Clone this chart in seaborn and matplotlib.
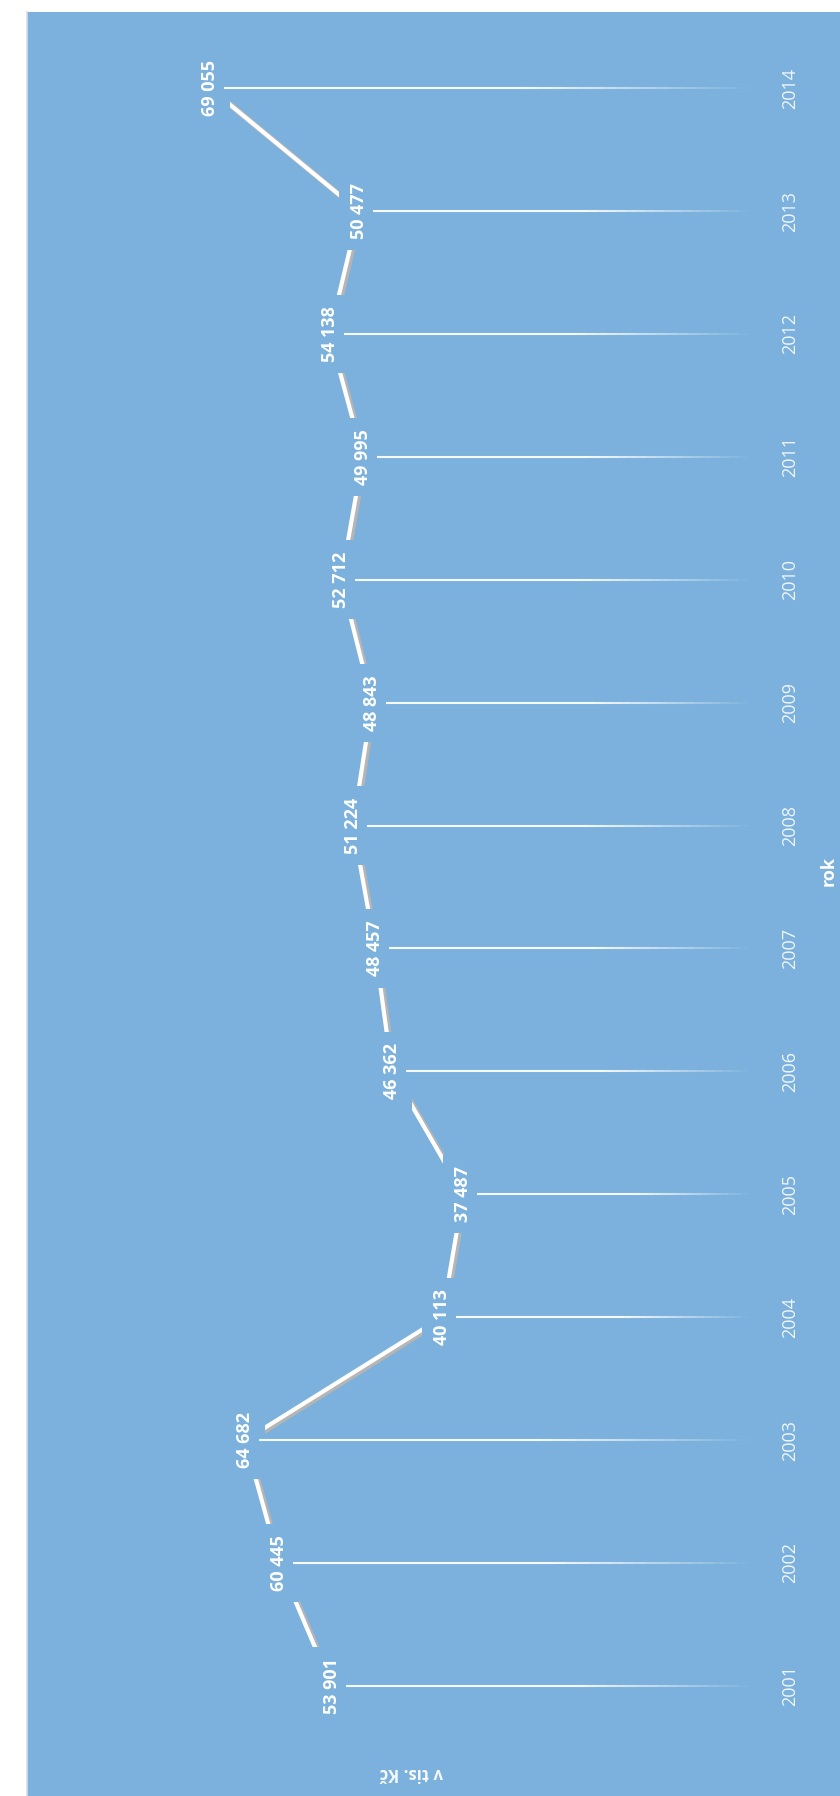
import numpy as np
import matplotlib
matplotlib.use("Agg")
import matplotlib.pyplot as plt
import matplotlib.transforms as mtransforms
from matplotlib.collections import LineCollection
import seaborn as sns

# data: yearly values in thousands CZK
years = [2001, 2002, 2003, 2004, 2005, 2006, 2007, 2008, 2009, 2010, 2011, 2012, 2013, 2014]
values = [53901, 60445, 64682, 40113, 37487, 46362, 48457, 51224, 48843, 52712, 49995, 54138, 50477, 69055]
x_label = "rok"
y_label = "v tis. Kč"

bg = "#7BB1DC"

sns.set_style("white")
plt.rcParams["font.family"] = ["Open Sans", "DejaVu Sans"]

fig = plt.figure(figsize=(8.4, 17.96), dpi=100)
fig.patch.set_facecolor("white")
ax = fig.add_axes([27 / 840, 0, 1 - 27 / 840, 1784 / 1796])
ax.set_facecolor(bg)
for s in ax.spines.values():
    s.set_visible(False)
ax.spines["left"].set_visible(True)
ax.spines["left"].set_color("#d8dde3")
ax.spines["left"].set_linewidth(1.2)

# the chart is turned on its side: values run right-to-left, years bottom-to-top
ax.set_xlim(93619, -7753)
ax.set_ylim(2000.104, 2014.62)
ax.set_xticks([])
ax.set_yticks([])

# drop lines from each point, fading out toward the base
stem_end = 3700
segs, cols = [], []
for yr, v in zip(years, values):
    xs = np.linspace(v, stem_end, 41)
    for i in range(40):
        t = i / 40
        a = 1.0 if t < 0.55 else max(0.0, 1 - (t - 0.55) / 0.45)
        segs.append([(xs[i], yr), (xs[i + 1], yr)])
        cols.append((1, 1, 1, 0.95 * a))
ax.add_collection(LineCollection(segs, colors=cols, linewidths=1.5, zorder=5))

# ribbon line (3D look), drawn through the label centres
off = mtransforms.ScaledTranslation(-14 / 100, 0, fig.dpi_scale_trans)
shade = mtransforms.ScaledTranslation(-12 / 100, -1.5 / 100, fig.dpi_scale_trans)
ax.plot(values, years, color="#b5b5b5", lw=4.2, solid_capstyle="butt",
        transform=ax.transData + shade, zorder=2)
sns.lineplot(x=values, y=years, orient="y", color="white", lw=3.0, ax=ax,
             transform=ax.transData + off, zorder=2.5, legend=False)

# data labels
for yr, v in zip(years, values):
    ax.text(v, yr, f"{v:,}".replace(",", " "), rotation=90, ha="center", va="center",
            color="white", fontsize=13, fontweight="bold", transform=ax.transData + off,
            bbox=dict(boxstyle="square,pad=0.62", fc=bg, ec="none"), zorder=3)

# year labels on the right
ytrans = ax.get_yaxis_transform()
for yr in years:
    ax.text((790 - 27) / 813, yr, str(yr), rotation=90, ha="center", va="center",
            color="white", alpha=0.88, fontsize=13, transform=ytrans, zorder=4)

fig.text(829 / 840, 1 - 871 / 1796, x_label, rotation=90, ha="center", va="center",
         color="white", fontsize=13, fontweight="bold")
fig.text(411 / 840, 1 - 1773 / 1796, y_label, rotation=180, ha="center", va="center",
         color="white", alpha=0.92, fontsize=12, fontweight="bold")

fig.savefig("out.png", dpi=100, facecolor=fig.get_facecolor())
